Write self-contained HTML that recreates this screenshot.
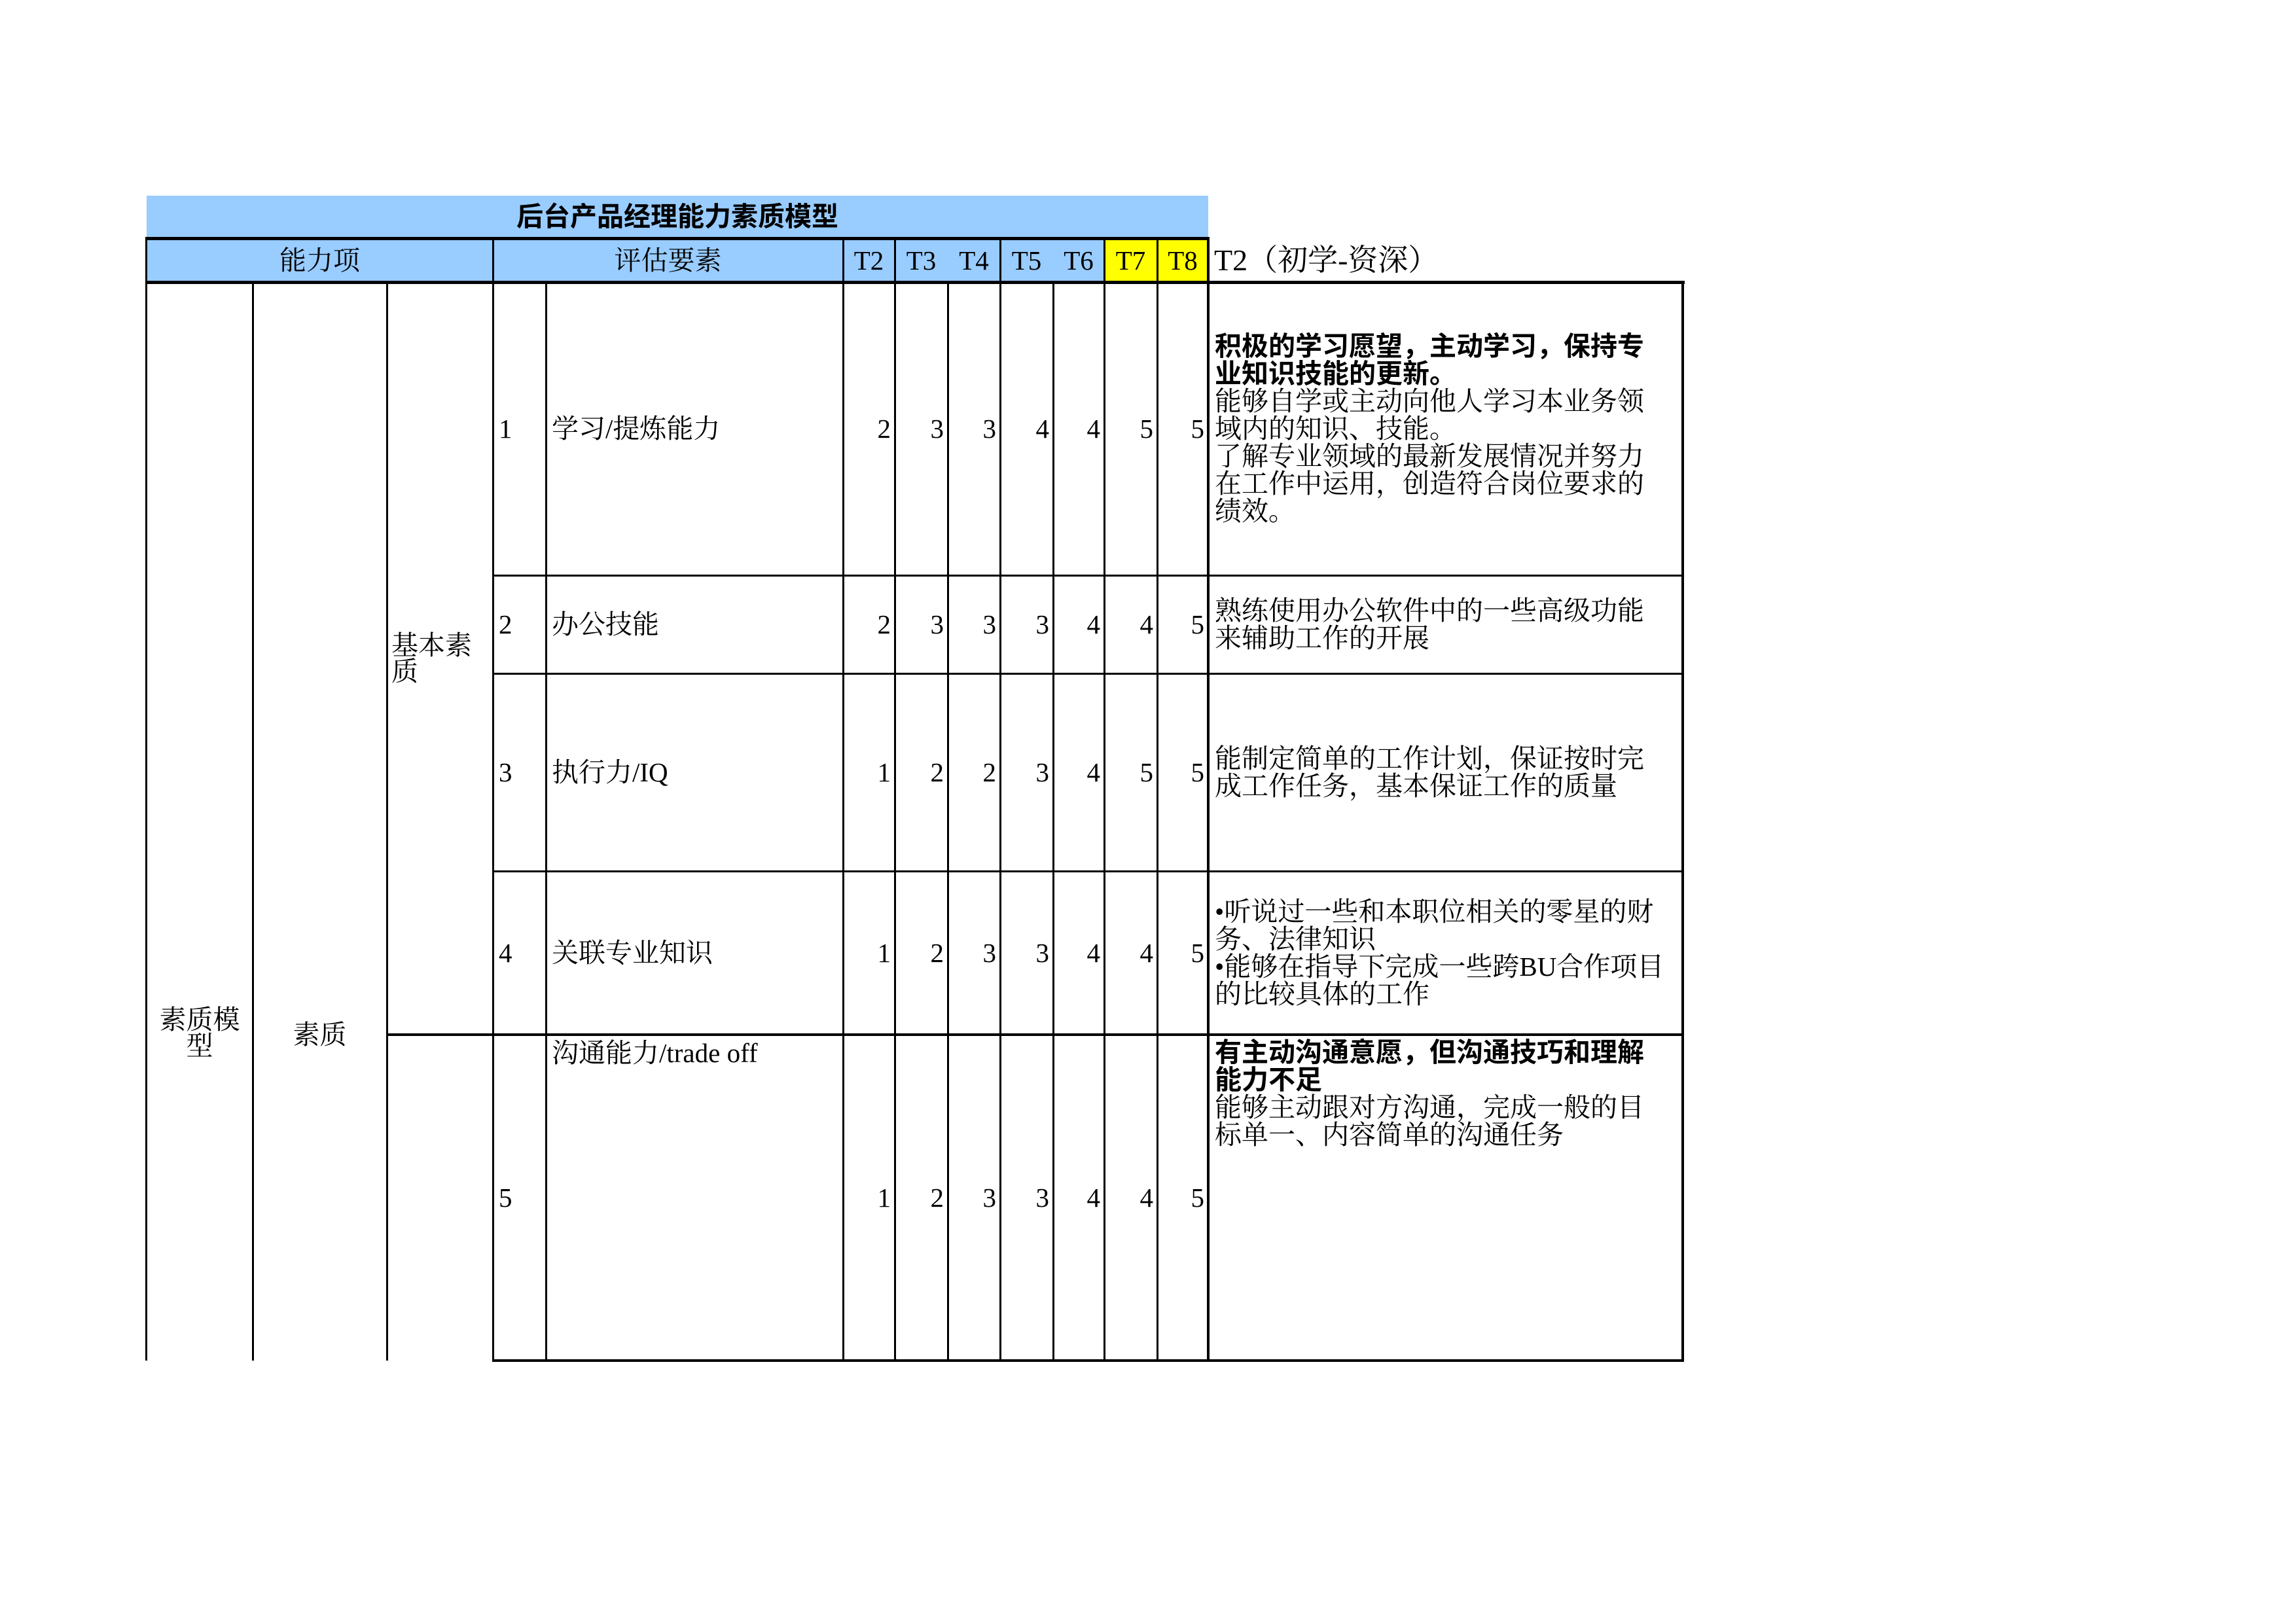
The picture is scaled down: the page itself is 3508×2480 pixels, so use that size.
<!DOCTYPE html>
<html><head><meta charset="utf-8">
<style>
html,body{margin:0;padding:0;background:#fff}
body{width:3508px;height:2480px;position:relative;overflow:hidden}
.b{position:absolute;background:#000}
.f{position:absolute}
.c{position:absolute;display:flex;align-items:center;font-family:"Liberation Serif","Noto Serif CJK SC",serif;font-size:41px;line-height:42px;white-space:nowrap;color:#000}
.r{justify-content:flex-end;padding-right:6px;box-sizing:border-box}
.m{justify-content:center;text-align:center}
.bold{font-family:"Liberation Sans","Noto Sans CJK SC",sans-serif;font-weight:bold}
</style></head><body>
<div class="f" style="left:224px;top:299px;width:1622px;height:132px;background:#99CCFF"></div>
<div class="f" style="left:1687px;top:364px;width:159px;height:67px;background:#FFFF00"></div>
<div class="c m bold" style="left:224px;top:299px;width:1622px;height:64px">后台产品经理能力素质模型</div>
<div class="c m" style="left:224px;top:364px;width:529px;height:67px">能力项</div>
<div class="c m" style="left:753px;top:364px;width:535px;height:67px">评估要素</div>
<div class="c m" style="left:1288px;top:364px;width:79px;height:67px">T2</div>
<div class="c m" style="left:1367px;top:364px;width:81px;height:67px">T3</div>
<div class="c m" style="left:1448px;top:364px;width:80px;height:67px">T4</div>
<div class="c m" style="left:1528px;top:364px;width:81px;height:67px">T5</div>
<div class="c m" style="left:1609px;top:364px;width:78px;height:67px">T6</div>
<div class="c m" style="left:1687px;top:364px;width:81px;height:67px">T7</div>
<div class="c m" style="left:1768px;top:364px;width:78px;height:67px">T8</div>
<div class="c" style="left:1855px;top:364px;width:700px;height:67px;font-size:46px">T2（初学-资深）</div>

<div class="b" style="left:224px;top:362px;width:1624px;height:5px"></div>
<div class="b" style="left:224px;top:429px;width:2350px;height:5px"></div>
<div class="b" style="left:222px;top:362px;width:3px;height:1717px"></div>
<div class="b" style="left:752px;top:362px;width:3px;height:1718px"></div>
<div class="b" style="left:1287px;top:362px;width:3px;height:1718px"></div>
<div class="b" style="left:1366px;top:362px;width:3px;height:1718px"></div>
<div class="b" style="left:1447px;top:431px;width:3px;height:1649px"></div>
<div class="b" style="left:1527px;top:362px;width:3px;height:1718px"></div>
<div class="b" style="left:1608px;top:431px;width:3px;height:1649px"></div>
<div class="b" style="left:1686px;top:362px;width:3px;height:1718px"></div>
<div class="b" style="left:1767px;top:362px;width:3px;height:1718px"></div>
<div class="b" style="left:1844px;top:362px;width:4px;height:1718px"></div>
<div class="b" style="left:2569px;top:429px;width:4px;height:1652px"></div>
<div class="b" style="left:385px;top:431px;width:3px;height:1648px"></div>
<div class="b" style="left:590px;top:431px;width:3px;height:1648px"></div>
<div class="b" style="left:833px;top:431px;width:3px;height:1648px"></div>
<div class="b" style="left:753px;top:878px;width:1818px;height:3px"></div>
<div class="b" style="left:753px;top:1028px;width:1818px;height:3px"></div>
<div class="b" style="left:753px;top:1330px;width:1818px;height:3px"></div>
<div class="b" style="left:591px;top:1579px;width:1980px;height:4px"></div>
<div class="b" style="left:752px;top:2077px;width:1821px;height:4px"></div>

<div class="c m" style="left:224px;top:1498px;width:162px;height:160px;line-height:40px">素质模<br>型</div>
<div class="c m" style="left:386px;top:1498px;width:205px;height:166px">素质</div>
<div class="c" style="left:598px;top:431px;width:155px;height:1150px;line-height:40px">基本素<br>质</div>

<div class="c" style="left:762px;top:431px;height:448px">1</div>
<div class="c" style="left:843px;top:431px;height:448px">学习/提炼能力</div>
<div class="c" style="left:762px;top:879px;height:150px">2</div>
<div class="c" style="left:843px;top:879px;height:150px">办公技能</div>
<div class="c" style="left:762px;top:1029px;height:302px">3</div>
<div class="c" style="left:843px;top:1029px;height:302px">执行力/IQ</div>
<div class="c" style="left:762px;top:1331px;height:250px">4</div>
<div class="c" style="left:843px;top:1331px;height:250px">关联专业知识</div>
<div class="c" style="left:762px;top:1581px;height:498px">5</div>
<div class="c" style="left:843px;top:1587px;height:44px">沟通能力/trade off</div>

<div class="c r" style="left:1288px;top:431px;width:79px;height:448px">2</div>
<div class="c r" style="left:1367px;top:431px;width:81px;height:448px">3</div>
<div class="c r" style="left:1448px;top:431px;width:80px;height:448px">3</div>
<div class="c r" style="left:1528px;top:431px;width:81px;height:448px">4</div>
<div class="c r" style="left:1609px;top:431px;width:78px;height:448px">4</div>
<div class="c r" style="left:1687px;top:431px;width:81px;height:448px">5</div>
<div class="c r" style="left:1768px;top:431px;width:78px;height:448px">5</div>

<div class="c r" style="left:1288px;top:879px;width:79px;height:150px">2</div>
<div class="c r" style="left:1367px;top:879px;width:81px;height:150px">3</div>
<div class="c r" style="left:1448px;top:879px;width:80px;height:150px">3</div>
<div class="c r" style="left:1528px;top:879px;width:81px;height:150px">3</div>
<div class="c r" style="left:1609px;top:879px;width:78px;height:150px">4</div>
<div class="c r" style="left:1687px;top:879px;width:81px;height:150px">4</div>
<div class="c r" style="left:1768px;top:879px;width:78px;height:150px">5</div>

<div class="c r" style="left:1288px;top:1029px;width:79px;height:302px">1</div>
<div class="c r" style="left:1367px;top:1029px;width:81px;height:302px">2</div>
<div class="c r" style="left:1448px;top:1029px;width:80px;height:302px">2</div>
<div class="c r" style="left:1528px;top:1029px;width:81px;height:302px">3</div>
<div class="c r" style="left:1609px;top:1029px;width:78px;height:302px">4</div>
<div class="c r" style="left:1687px;top:1029px;width:81px;height:302px">5</div>
<div class="c r" style="left:1768px;top:1029px;width:78px;height:302px">5</div>

<div class="c r" style="left:1288px;top:1331px;width:79px;height:250px">1</div>
<div class="c r" style="left:1367px;top:1331px;width:81px;height:250px">2</div>
<div class="c r" style="left:1448px;top:1331px;width:80px;height:250px">3</div>
<div class="c r" style="left:1528px;top:1331px;width:81px;height:250px">3</div>
<div class="c r" style="left:1609px;top:1331px;width:78px;height:250px">4</div>
<div class="c r" style="left:1687px;top:1331px;width:81px;height:250px">4</div>
<div class="c r" style="left:1768px;top:1331px;width:78px;height:250px">5</div>

<div class="c r" style="left:1288px;top:1581px;width:79px;height:498px">1</div>
<div class="c r" style="left:1367px;top:1581px;width:81px;height:498px">2</div>
<div class="c r" style="left:1448px;top:1581px;width:80px;height:498px">3</div>
<div class="c r" style="left:1528px;top:1581px;width:81px;height:498px">3</div>
<div class="c r" style="left:1609px;top:1581px;width:78px;height:498px">4</div>
<div class="c r" style="left:1687px;top:1581px;width:81px;height:498px">4</div>
<div class="c r" style="left:1768px;top:1581px;width:78px;height:498px">5</div>

<div class="c" style="left:1856px;top:431px;width:710px;height:448px"><div><span class="bold">积极的学习愿望，主动学习，保持专<br>业知识技能的更新。</span><br>能够自学或主动向他人学习本业务领<br>域内的知识、技能。<br>了解专业领域的最新发展情况并努力<br>在工作中运用，创造符合岗位要求的<br>绩效。</div></div>
<div class="c" style="left:1856px;top:879px;width:710px;height:150px"><div>熟练使用办公软件中的一些高级功能<br>来辅助工作的开展</div></div>
<div class="c" style="left:1856px;top:1029px;width:710px;height:302px"><div>能制定简单的工作计划，保证按时完<br>成工作任务，基本保证工作的质量</div></div>
<div class="c" style="left:1856px;top:1331px;width:710px;height:250px"><div>•听说过一些和本职位相关的零星的财<br>务、法律知识<br>•能够在指导下完成一些跨BU合作项目<br>的比较具体的工作</div></div>
<div class="c" style="left:1856px;top:1587px;width:710px;height:180px;align-items:flex-start"><div><span class="bold">有主动沟通意愿，但沟通技巧和理解<br>能力不足</span><br>能够主动跟对方沟通，完成一般的目<br>标单一、内容简单的沟通任务</div></div>
</body></html>
